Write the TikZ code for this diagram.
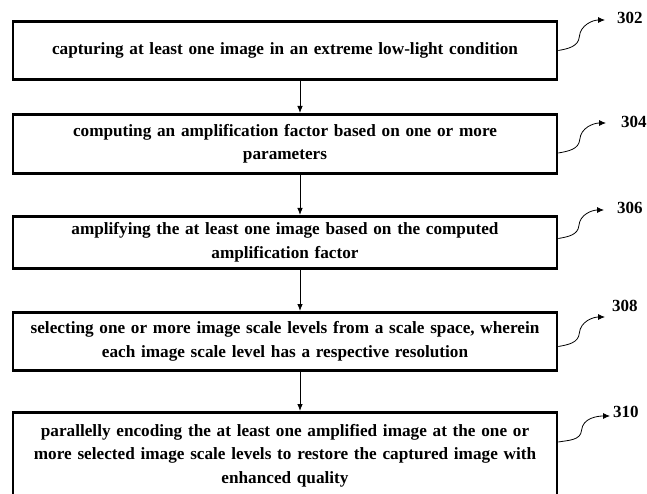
\documentclass[tikz,border=0pt]{standalone}
\usepackage{fontspec}
\setmainfont{Liberation Serif}
\usetikzlibrary{positioning, calc, arrows.meta}
\tikzset{block/.style={draw, line width=2.6pt, text width=540pt, minimum width=544pt, minimum height=58.4pt, align=center, inner sep=0pt, font=\bfseries\fontsize{17.2}{23.5}\selectfont},
line/.style={-{Latex[length=7pt, width=5.5pt]}, line width=0.8pt},
callout/.style={-{Latex[length=7pt, width=6pt]}, line width=0.8pt},
refnum/.style={inner sep=0pt, anchor=west, font=\bfseries\fontsize{17}{18}\selectfont}
}

\begin{document}
\begin{tikzpicture}[x=1pt, y=1pt, node distance=40pt]
\useasboundingbox (0,0) rectangle (647,-494);
\clip (0,0) rectangle (647,-494);

\node[block] (capture) at (285,-50.5) {capturing at least one image in an extreme low-light condition};
\node[block, below=32pt of capture, minimum height=59.4pt] (factor) {computing an amplification factor based on one or more\\ parameters};
\node[block, below=of factor, minimum height=52.4pt] (amplify) {amplifying the at least one image based on the computed\\ amplification factor};
\node[block, below=41pt of amplify] (select) {selecting one or more image scale levels from a scale space, wherein\\ each image scale level has a respective resolution};
% last box runs off the bottom of the page
\node[block, below=39pt of select, inner ysep=12pt] (encode) {parallelly encoding the at least one amplified image at the one or\\ more selected image scale levels to restore the captured image with\\ enhanced quality\rule[-40pt]{0pt}{40pt}};

% reference numerals and where their arrows end
\node[refnum] (n302) at (617,-18) {302};
\node[refnum] (n304) at (621,-122) {304};
\node[refnum] (n306) at (617,-208) {306};
\node[refnum] (n308) at (612,-306) {308};
\node[refnum] (n310) at (613,-412) {310};
\coordinate (t302) at (605,-20);
\coordinate (t304) at (606,-123);
\coordinate (t306) at (604,-210);
\coordinate (t308) at (605,-317);
\coordinate (t310) at (610,-416);

 \draw[line] ([xshift=15pt]capture.south) -- ([xshift=15pt]factor.north);
 \draw[line] ([xshift=15pt]factor.south) -- ([xshift=15pt]amplify.north);
 \draw[line] ([xshift=15pt]amplify.south) -- ([xshift=15pt]select.north);
 \draw[line] ([xshift=15pt]select.south) -- ([xshift=15pt]encode.north);

\foreach \b/\a/\dy/\t in {capture/east/0/t302, factor/east/-9/t304, amplify/east/4/t306, select/east/-5/t308, encode/north east/-31/t310}
 \draw[callout] ([yshift=\dy pt]\b.\a) to[out=10, in=-95] ($([yshift=\dy pt]\b.\a)!0.45!(\t)$) to[out=85, in=180] (\t);

\end{tikzpicture}
\end{document}
